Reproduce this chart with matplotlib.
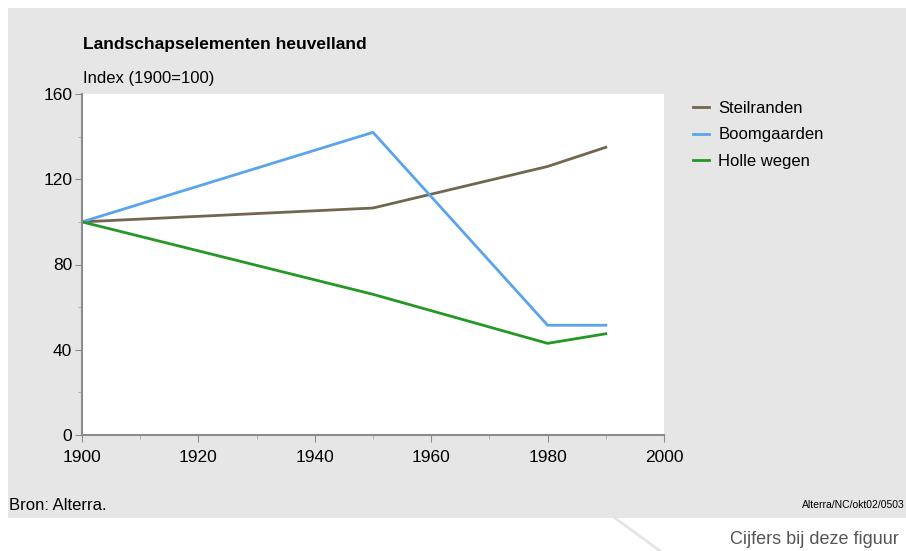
import matplotlib.pyplot as plt
from matplotlib.patches import Rectangle
from matplotlib.lines import Line2D
from matplotlib.ticker import MultipleLocator

plt.rcParams["font.family"] = ["Liberation Sans", "DejaVu Sans"]

years = [1900, 1950, 1980, 1990]
steilranden = [100, 106.5, 126, 135]
boomgaarden = [100, 142, 51.5, 51.5]
holle_wegen = [100, 66, 43, 47.5]

W, H = 906, 551
fig = plt.figure(figsize=(W / 100, H / 100), dpi=100)
fig.patch.set_facecolor("white")

# grey panel behind the chart
fig.patches.append(Rectangle((8 / W, 1 - 518 / H), 1 - 8 / W, (518 - 8) / H,
                             transform=fig.transFigure, facecolor="#e6e6e6",
                             edgecolor="none", zorder=-5))
# slanted edge of the tab at the bottom right
fig.lines.append(Line2D([615 / W, 660 / W], [1 - 518 / H, 0], transform=fig.transFigure,
                        color="#e4e4e4", lw=2, zorder=-4))

ax = fig.add_axes([82 / W, 1 - 435 / H, (664 - 82) / W, (435 - 94) / H])
ax.set_facecolor("white")

ax.plot(years, steilranden, color="#726650", lw=2, label="Steilranden")
ax.plot(years, boomgaarden, color="#5aa4ec", lw=2, label="Boomgaarden")
ax.plot(years, holle_wegen, color="#249824", lw=2, label="Holle wegen")

ax.set_xlim(1900, 2000)
ax.set_ylim(0, 160)
ax.set_xticks([1900, 1920, 1940, 1960, 1980, 2000])
ax.set_yticks([0, 40, 80, 120, 160])
ax.xaxis.set_minor_locator(MultipleLocator(10))
ax.yaxis.set_minor_locator(MultipleLocator(20))
for s in ["top", "right"]:
    ax.spines[s].set_visible(False)
for s in ["left", "bottom"]:
    ax.spines[s].set_color("#8c8c8c")
    ax.spines[s].set_linewidth(1.5)
ax.tick_params(which="major", length=5, color="#8c8c8c", labelsize=12.5)
ax.tick_params(axis="x", which="major", pad=6)
ax.tick_params(axis="y", which="major", pad=2)
ax.tick_params(which="minor", length=3, color="#aaaaaa")

fig.text(83 / W, 1 - 45 / H, "Landschapselementen heuvelland", fontsize=12.5,
         fontweight="bold", va="center", ha="left")
fig.text(83 / W, 1 - 79 / H, "Index (1900=100)", fontsize=12, va="center", ha="left")
fig.text(9 / W, 1 - 505 / H, "Bron: Alterra.", fontsize=12, va="center", ha="left")
fig.text(905 / W, 1 - 505 / H, "Alterra/NC/okt02/0503", fontsize=7.5, va="center", ha="right")
fig.text(899 / W, 1 - 540 / H, "Cijfers bij deze figuur", fontsize=13, color="#555555",
         va="center", ha="right")

fig.legend(loc="upper left", bbox_to_anchor=(686 / W, 1 - 94 / H), frameon=False,
           fontsize=12, handlelength=1.0, handletextpad=0.55, labelspacing=0.7,
           borderaxespad=0)

fig.savefig("out.png", dpi=100)
